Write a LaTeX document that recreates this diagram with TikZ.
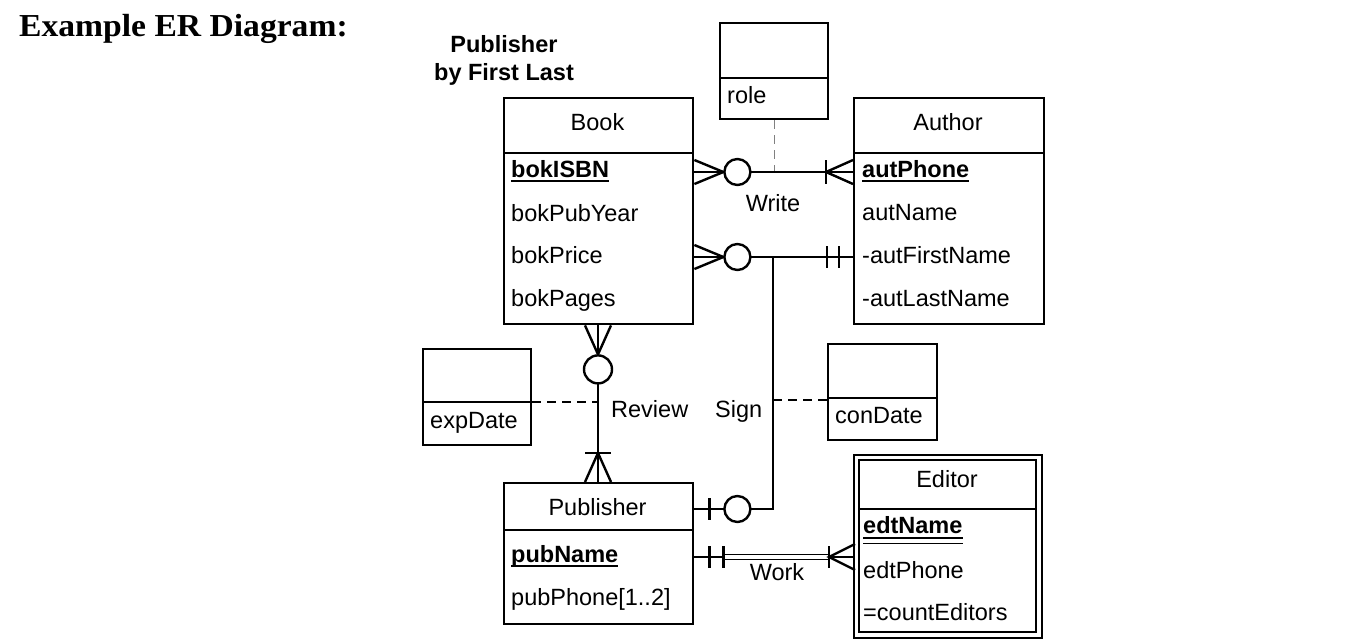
\documentclass[tikz,border=0pt]{standalone}
\usepackage{fontspec}
\setmainfont{Liberation Sans}
\newfontfamily\titlefont{Liberation Serif}
\begin{document}
\begin{tikzpicture}[x=1pt,y=-1pt,line join=miter]
\tikzset{
  ent/.style={draw, line width=2.4pt, inner sep=0, anchor=north west},
  attr/.style={anchor=base west, inner sep=0, font=\fontsize{23.5}{28}\selectfont},
  hdr/.style={anchor=base, inner sep=0, font=\fontsize{23.5}{28}\selectfont},
  lbl/.style={inner sep=0, font=\fontsize{23.5}{28}\selectfont},
  conn/.style={line width=2.4pt},
  uline/.style={line width=1.8pt},
  dashline/.style={line width=1.4pt, dash pattern=on 9pt off 6pt},
  circ/.style={line width=2.4pt, fill=white},
}
\useasboundingbox (0,0) rectangle (1346,640);

% title
\node[anchor=base west, inner sep=0, font=\titlefont\bfseries\fontsize{32}{38}\selectfont] (title) at (19,36) {\scalebox{1.05}[1]{Example ER Diagram:}};
\node[hdr, font=\bfseries\fontsize{23.5}{28}\selectfont] (ttl1) at (504,52) {Publisher};
\node[hdr, font=\bfseries\fontsize{23.5}{28}\selectfont] (ttl2) at (504,80) {by First Last};

% Book
\node[ent, minimum width=189pt, minimum height=226pt] (book) at (503,97) {};
\draw[line width=2.4pt] ([yshift=-56pt]book.north west) -- ([yshift=-56pt]book.north east);
\node[hdr] (bookh) at (597.5,130) {Book};
\node[attr, font=\bfseries\fontsize{23.5}{28}\selectfont] (b1) at (511,177) {bokISBN};
\draw[uline] ([yshift=-4pt]b1.base west) -- ([yshift=-4pt]b1.base east);
\node[attr] (b2) at (511,221) {bokPubYear};
\node[attr] (b3) at (511,263) {bokPrice};
\node[attr] (b4) at (511,306) {bokPages};

% Author
\node[ent, minimum width=190pt, minimum height=226pt] (author) at (853,97) {};
\draw[line width=2.4pt] ([yshift=-56pt]author.north west) -- ([yshift=-56pt]author.north east);
\node[hdr] (authh) at (948,130) {Author};
\node[attr, font=\bfseries\fontsize{23.5}{28}\selectfont] (a1) at (862,177) {autPhone};
\draw[uline] ([yshift=-4pt]a1.base west) -- ([yshift=-4pt]a1.base east);
\node[attr] (a2) at (862,220) {autName};
\node[attr] (a3) at (862,263) {-autFirstName};
\node[attr] (a4) at (862,306) {-autLastName};

% role
\node[ent, minimum width=108pt, minimum height=96pt] (role) at (719,22) {};
\draw[line width=2.4pt] ([yshift=-56pt]role.north west) -- ([yshift=-56pt]role.north east);
\node[attr] (roleT) at (727,103) {role};

% expDate
\node[ent, minimum width=108pt, minimum height=96pt] (exp) at (422,348) {};
\draw[line width=2.4pt] ([yshift=-54pt]exp.north west) -- ([yshift=-54pt]exp.north east);
\node[attr] (expT) at (430,428) {expDate};

% conDate
\node[ent, minimum width=109pt, minimum height=96pt] (con) at (827,343) {};
\draw[line width=2.4pt] ([yshift=-55pt]con.north west) -- ([yshift=-55pt]con.north east);
\node[attr] (conT) at (835,423) {conDate};

% Publisher
\node[ent, minimum width=189pt, minimum height=141pt] (pub) at (503,482) {};
\draw[line width=2.4pt] ([yshift=-48pt]pub.north west) -- ([yshift=-48pt]pub.north east);
\node[hdr] (pubh) at (597.5,515) {Publisher};
\node[attr, font=\bfseries\fontsize{23.5}{28}\selectfont] (p1) at (511,562) {pubName};
\draw[uline] ([yshift=-4pt]p1.base west) -- ([yshift=-4pt]p1.base east);
\node[attr] (p2) at (511,605) {pubPhone[1..2]};

% Editor (weak entity, double border)
\node[ent, line width=2pt, minimum width=188pt, minimum height=183pt] (editor) at (853,454) {};
\draw[line width=2pt] (858.5,459.5) rectangle (1035.5,631.5);
\draw[line width=2pt] (858.5,509) -- (1035.5,509);
\node[hdr] (edh) at (947,487) {Editor};
\node[attr, font=\bfseries\fontsize{23.5}{28}\selectfont] (e1) at (863,533) {edtName};
\draw[uline] ([yshift=-5pt]e1.base west) -- ([yshift=-5pt]e1.base east);
\draw[uline] ([yshift=-10.5pt]e1.base west) -- ([yshift=-10.5pt]e1.base east);
\node[attr] (e2) at (863,578) {edtPhone};
\node[attr] (e3) at (863,620) {=countEditors};

% ---- Write: Book >O ---- |< Author
\coordinate (wA) at ([yshift=-75pt]book.north east);
\coordinate (wB) at ([yshift=-75pt]author.north west);
\draw[dashline, gray] (role.south) -- (role.south |- wA);
\draw[conn] (wA) -- (wB);
\draw[conn] ([yshift=12pt]wA) -- ([xshift=29pt]wA) -- ([yshift=-12pt]wA);
\draw[circ] ([xshift=43pt]wA) circle (13pt);
\draw[conn] ([yshift=12pt]wB) -- ([xshift=-27pt]wB) -- ([yshift=-12pt]wB);
\draw[conn] ([xshift=-27pt,yshift=12pt]wB) -- ([xshift=-27pt,yshift=-12pt]wB);
\node[lbl, anchor=base] (writeL) at (773,211) {Write};

% ---- Book >O ---- || Author
\coordinate (pA) at ([yshift=-160pt]book.north east);
\coordinate (pB) at ([yshift=-160pt]author.north west);
\draw[conn] (pA) -- (pB);
\draw[conn] ([yshift=12pt]pA) -- ([xshift=29pt]pA) -- ([yshift=-12pt]pA);
\draw[circ] ([xshift=43pt]pA) circle (13pt);
\draw[conn] ([xshift=-26pt,yshift=11pt]pB) -- ([xshift=-26pt,yshift=-11pt]pB);
\draw[conn] ([xshift=-14pt,yshift=11pt]pB) -- ([xshift=-14pt,yshift=-11pt]pB);

% ---- Sign: Publisher |O ---- joins line
\coordinate (sJ) at ([xshift=-80pt]pB);
\coordinate (sA) at ([yshift=-27pt]pub.north east);
\draw[conn] (sA) -- (sA -| sJ) -- (sJ);
\draw[conn] ([xshift=15pt,yshift=11pt]sA) -- ([xshift=15pt,yshift=-11pt]sA);
\draw[circ] ([xshift=43pt]sA) circle (13pt);
\coordinate (cD) at ([yshift=-57pt]con.north west);
\draw[dashline] (sJ |- cD) -- (cD);
\node[lbl, anchor=base west] (signL) at (715,417) {Sign};

% ---- Review: Book (bottom) >O ---- |< Publisher (top)
\coordinate (rA) at ([xshift=95pt]book.south west);
\coordinate (rB) at ([xshift=95pt]pub.north west);
\draw[conn] (rA) -- (rB);
\draw[conn] ([xshift=-13pt]rA) -- ([yshift=-29pt]rA) -- ([xshift=13pt]rA);
\draw[circ] ([yshift=-44pt]rA) circle (14pt);
\draw[conn] ([xshift=-13pt]rB) -- ([yshift=29pt]rB) -- ([xshift=13pt]rB);
\draw[conn] ([xshift=-13pt,yshift=29pt]rB) -- ([xshift=13pt,yshift=29pt]rB);
\coordinate (eD) at ([yshift=-54pt]exp.north east);
\draw[dashline] (eD) -- (eD -| rA);
\node[lbl, anchor=base west] (reviewL) at (611,417) {Review};

% ---- Work: Publisher || ==== |< Editor
\coordinate (kA) at ([yshift=-75pt]pub.north east);
\coordinate (kB) at ([yshift=-103pt]editor.north west);
\draw[conn] (kA) -- ([xshift=29pt]kA);
\draw[line width=1.6pt, double, double distance=3.2pt] ([xshift=29pt]kA) -- ([xshift=-24pt]kB);
\draw[conn] ([xshift=-24pt]kB) -- (kB);
\draw[conn] ([xshift=15pt,yshift=11pt]kA) -- ([xshift=15pt,yshift=-11pt]kA);
\draw[conn] ([xshift=29pt,yshift=11pt]kA) -- ([xshift=29pt,yshift=-11pt]kA);
\draw[conn] ([xshift=-24pt,yshift=11pt]kB) -- ([xshift=-24pt,yshift=-11pt]kB);
\draw[conn] ([xshift=2pt,yshift=13pt]kB) -- ([xshift=-24pt]kB) -- ([xshift=2pt,yshift=-13pt]kB);
\node[lbl, anchor=base] (workL) at (777,580) {Work};
\end{tikzpicture}
\end{document}
